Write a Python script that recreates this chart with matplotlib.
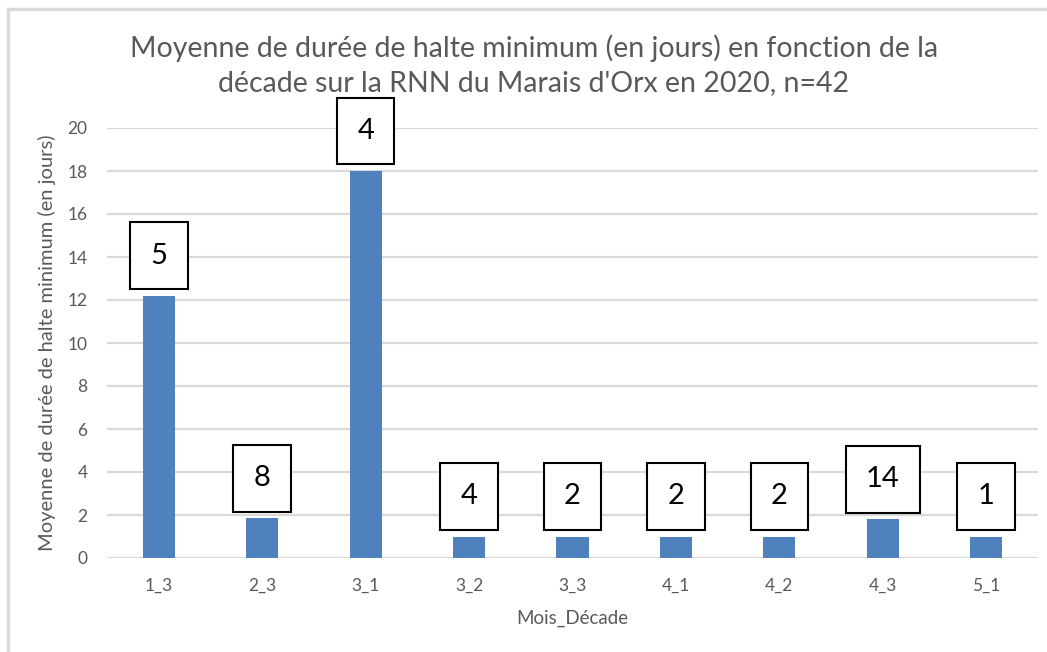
import matplotlib
matplotlib.use("Agg")
import matplotlib.pyplot as plt
from matplotlib.patches import Rectangle

# données
decades = ["1_3", "2_3", "3_1", "3_2", "3_3", "4_1", "4_2", "4_3", "5_1"]
duree_moy = [12.2, 1.85, 18, 1, 1, 1, 1, 1.8, 1]
effectifs = [5, 8, 4, 4, 2, 2, 2, 14, 1]
yticks = [0, 2, 4, 6, 8, 10, 12, 14, 16, 18, 20]

plt.rcParams['font.family'] = ['Lato', 'DejaVu Sans']

gris = '#595959'
grille = '#d9d9d9'

fig = plt.figure(figsize=(10.47, 6.52), dpi=100)
ax = fig.add_axes([107/1047, 94/652, 931/1047, 430/652])

x = list(range(len(decades)))
bars = ax.bar(x, duree_moy, width=0.31, color='#4f81bd', zorder=3)

ax.set_xlim(-0.5, len(decades) - 0.5)
ax.set_ylim(0, 20)
ax.set_yticks(yticks)
ax.set_xticks(x)
ax.set_xticklabels(decades)
ax.yaxis.grid(True, color=grille, linewidth=1.6, zorder=0)
ax.set_axisbelow(True)
for s in ['top', 'right', 'left', 'bottom']:
    ax.spines[s].set_visible(False)
ax.tick_params(axis='both', length=0, labelsize=12.5, colors=gris)
ax.tick_params(axis='x', pad=14)
ax.tick_params(axis='y', pad=14)

# étiquettes n dans des cadres
for b, n in zip(bars, effectifs):
    ax.annotate(str(n), (b.get_x() + b.get_width()/2, b.get_height()),
                xytext=(0, 19.5), textcoords='offset points',
                ha='center', va='bottom', fontsize=21, color='black',
                annotation_clip=False, clip_on=False, zorder=5,
                bbox=dict(boxstyle='square,pad=0.7', fc='white',
                          ec='black', lw=1.5))

ax.set_xlabel("Mois_Décade", fontsize=13.5, color=gris, labelpad=12)
ax.set_ylabel("Moyenne de durée de halte minimum (en jours)",
              fontsize=14.5, color=gris, labelpad=8)

fig.text(0.51, 0.9,
         "Moyenne de durée de halte minimum (en jours) en fonction de la\n"
         "décade sur la RNN du Marais d'Orx en 2020, n=42",
         ha='center', va='center', fontsize=20.5, color=gris,
         linespacing=1.4)

# cadre du graphique
fig.patches.append(Rectangle((8/1047, -0.1), 1.2, 1 - 9/652 + 0.1,
                             transform=fig.transFigure, fill=False,
                             ec=grille, lw=2.5))

fig.savefig("out.png", dpi=100)
